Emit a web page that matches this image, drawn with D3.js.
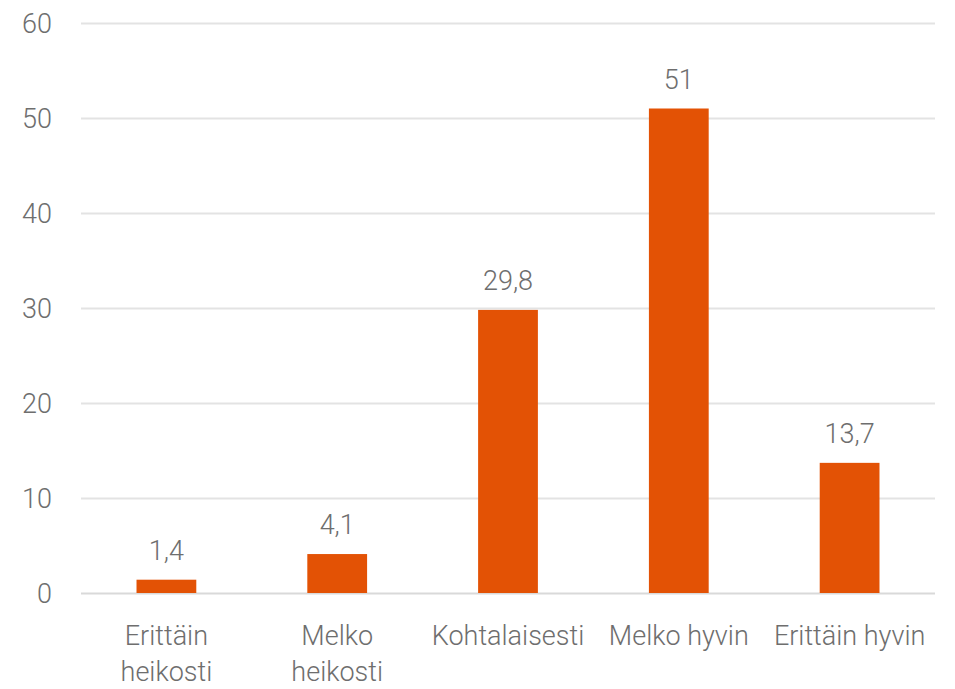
<!DOCTYPE html>
<html>
<head>
<meta charset="utf-8">
<script src="https://cdn.jsdelivr.net/npm/d3@7"></script>
<style>
  body { margin: 0; background: #fff; }
  svg text { font-family: Roboto, sans-serif; font-weight: 300; fill: #6e6e6e; }
</style>
</head>
<body>
<div id="chart"></div>
<script>
const categories = [["Erittäin", "heikosti"], ["Melko", "heikosti"], ["Kohtalaisesti"], ["Melko hyvin"], ["Erittäin hyvin"]];
const values = [1.4, 4.1, 29.8, 51, 13.7];
const valueLabels = ["1,4", "4,1", "29,8", "51", "13,7"];
const yTicks = [0, 10, 20, 30, 40, 50, 60];

function drawChart() {
  const width = 955, height = 689;
  const left = 81, right = 935, top = 23, bottom = 593;

  const svg = d3.select("#chart")
    .append("svg")
    .attr("width", width)
    .attr("height", height);

  const x = d3.scaleBand()
    .domain(d3.range(categories.length))
    .range([left, right])
    .paddingInner(0.65)
    .paddingOuter(0.325);

  const y = d3.scaleLinear()
    .domain([0, 60])
    .range([bottom, top]);

  // gridlines
  svg.append("g")
    .selectAll("line")
    .data(yTicks)
    .join("line")
    .attr("x1", left)
    .attr("x2", right)
    .attr("y1", d => Math.round(y(d)) + 0.5)
    .attr("y2", d => Math.round(y(d)) + 0.5)
    .attr("stroke", d => d === 0 ? "#d9d9d9" : "#e3e3e3")
    .attr("stroke-width", 2);

  // y labels
  svg.append("g")
    .selectAll("text")
    .data(yTicks)
    .join("text")
    .attr("x", 52)
    .attr("y", d => y(d))
    .attr("dy", "0.36em")
    .attr("text-anchor", "end")
    .style("font-size", "27px")
    .text(d => d);

  // value labels
  svg.append("g")
    .selectAll("text")
    .data(values)
    .join("text")
    .attr("x", (d, i) => x(i) + x.bandwidth() / 2)
    .attr("y", d => y(d) - 20)
    .attr("text-anchor", "middle")
    .style("font-size", "27px")
    .text((d, i) => valueLabels[i]);

  // bars
  svg.append("g")
    .selectAll("rect")
    .data(values)
    .join("rect")
    .attr("x", (d, i) => x(i))
    .attr("y", d => y(d))
    .attr("width", x.bandwidth())
    .attr("height", d => y(0) - y(d))
    .attr("fill", "#e35205");

  // category labels
  const cat = svg.append("g")
    .selectAll("text")
    .data(categories)
    .join("text")
    .attr("x", (d, i) => x(i) + x.bandwidth() / 2)
    .attr("y", 645)
    .attr("text-anchor", "middle")
    .style("font-size", "27px");

  cat.selectAll("tspan")
    .data(d => d)
    .join("tspan")
    .attr("x", function () { return d3.select(this.parentNode).attr("x"); })
    .attr("dy", (d, i) => i === 0 ? 0 : 36)
    .text(d => d);
}

drawChart();
</script>
</body>
</html>
